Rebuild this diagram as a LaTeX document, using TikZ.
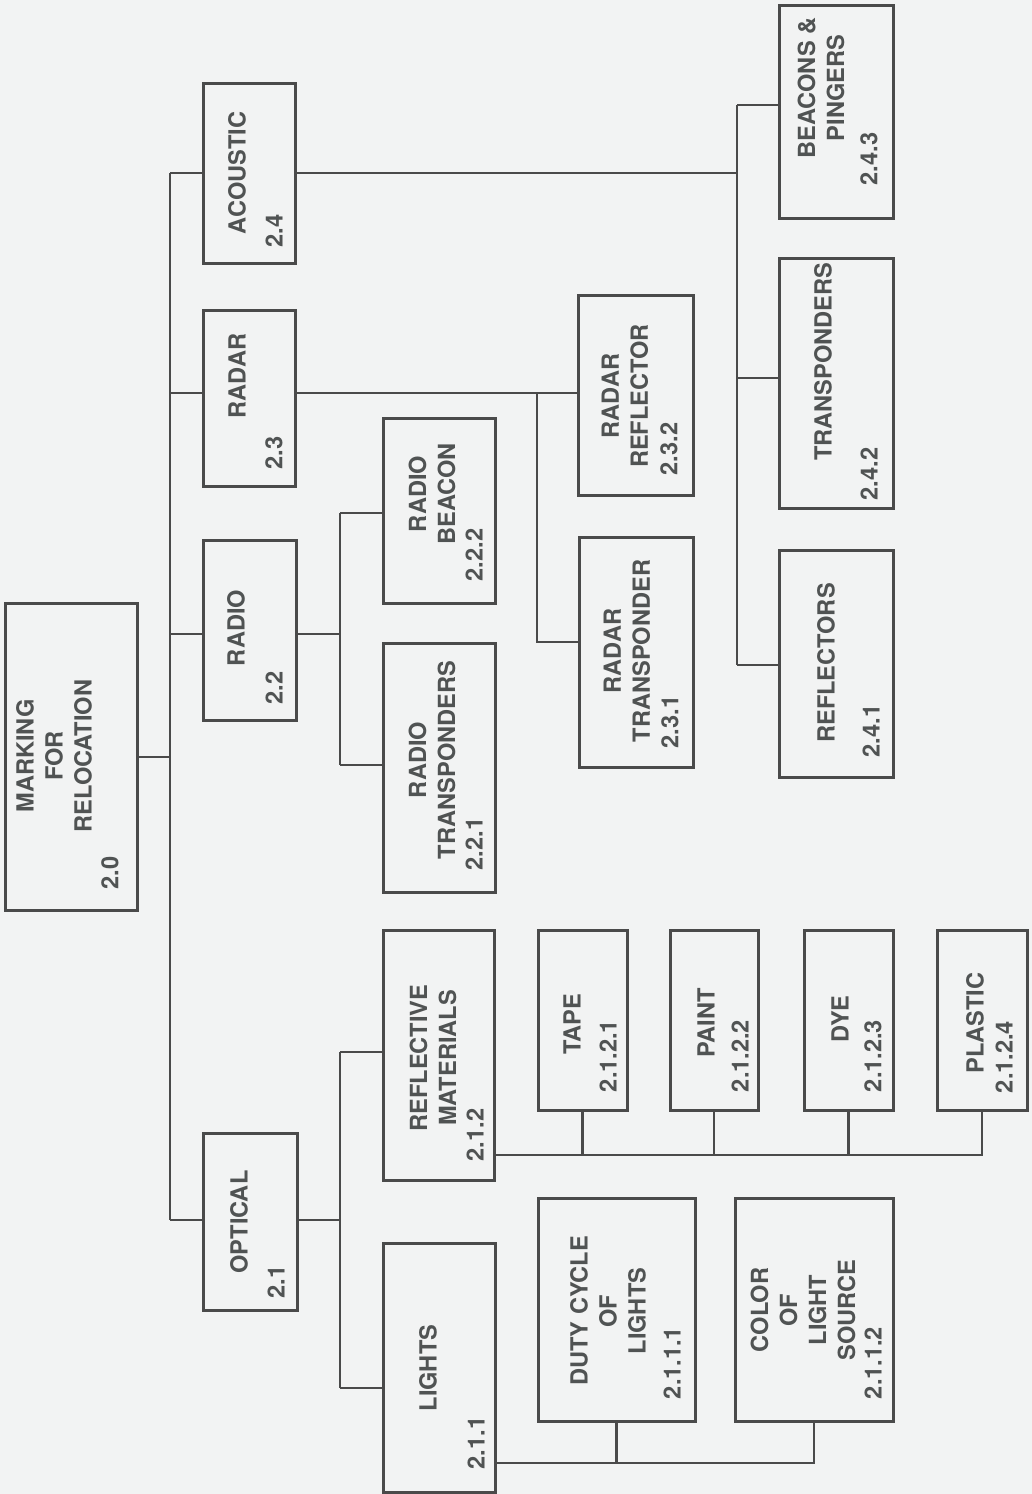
\documentclass[tikz,border=0pt]{standalone}
\usepackage{fontspec}
\setmainfont{TeX Gyre Heros}
\definecolor{bgc}{HTML}{F2F3F3}
\definecolor{linec}{HTML}{4A4A4A}
\definecolor{textc}{HTML}{505353}
\newcommand\bx[5]{\node[box, minimum width={(#4-#2)*0.5pt}, minimum height={(#5-#3)*0.5pt}] (#1) at ({(#2+#4)/2},{(#3+#5)/2}) {};}
\tikzset{
  box/.style={draw=linec, line width=1.5pt, inner sep=0pt, outer sep=0pt, rectangle},
  lab/.style={text=textc, font=\bfseries\fontsize{11.8}{14.5}\selectfont, rotate=90, align=center, inner sep=0pt},
  conn/.style={draw=linec, line width=1.2pt}
}
\begin{document}
\begin{tikzpicture}[x=0.5pt,y=-0.5pt]
\fill[bgc] (0,0) rectangle (1032,1494);
\useasboundingbox (0,0) rectangle (1032,1494);

% boxes
\bx{root}{5}{603}{137}{910}
\bx{opt}{203}{1133}{297}{1310}
\bx{radio}{203}{540}{296}{720}
\bx{radar}{203}{310}{295}{486}
\bx{acou}{203}{83}{295}{263}
\bx{lights}{383}{1243}{495}{1492}
\bx{refl}{383}{930}{494}{1180}
\bx{duty}{538}{1198}{695}{1421}
\bx{color}{735}{1198}{893}{1421}
\bx{rtrans}{383}{643}{495}{892}
\bx{rbeac}{383}{418}{495}{603}
\bx{radtr}{579}{537}{693}{767}
\bx{radrf}{578}{295}{693}{495}
\bx{arefl}{779}{550}{893}{777}
\bx{atran}{779}{258}{893}{508}
\bx{abeac}{779}{5}{893}{218}
\bx{tape}{538}{930}{627}{1110}
\bx{paint}{670}{930}{758}{1110}
\bx{dye}{804}{930}{893}{1110}
\bx{plast}{937}{930}{1027}{1110}

% labels
\node[lab] (rootT) at (54,756) {MARKING\\FOR\\RELOCATION};
\node[lab] (rootN) at (110,873) {2.0};
\node[lab] (optT) at (239,1222) {OPTICAL};
\node[lab] (optN) at (276,1282) {2.1};
\node[lab] (radioT) at (236,628) {RADIO};
\node[lab] (radioN) at (274,688) {2.2};
\node[lab] (radarT) at (237,376) {RADAR};
\node[lab] (radarN) at (274,453) {2.3};
\node[lab] (acouT) at (237,173) {ACOUSTIC};
\node[lab] (acouN) at (274,231) {2.4};
\node[lab] (lightsT) at (428,1368) {LIGHTS};
\node[lab] (lightsN) at (476,1443) {2.1.1};
\node[lab] (reflT) at (433,1058) {REFLECTIVE\\MATERIALS};
\node[lab] (reflN) at (475,1135) {2.1.2};
\node[lab] (dutyT) at (608,1311) {DUTY CYCLE\\OF\\LIGHTS};
\node[lab] (dutyN) at (672,1363) {2.1.1.1};
\node[lab] (colorT) at (803,1310) {COLOR\\OF\\LIGHT\\SOURCE};
\node[lab] (colorN) at (873,1363) {2.1.1.2};
\node[lab] (rtransT) at (432,760) {RADIO\\TRANSPONDERS};
\node[lab] (rtransN) at (474,844) {2.2.1};
\node[lab] (rbeacT) at (432,494) {RADIO\\BEACON};
\node[lab] (rbeacN) at (474,555) {2.2.2};
\node[lab] (radtrT) at (627,651) {RADAR\\TRANSPONDER};
\node[lab] (radtrN) at (670,722) {2.3.1};
\node[lab] (radrfT) at (625,396) {RADAR\\REFLECTOR};
\node[lab] (radrfN) at (669,449) {2.3.2};
\node[lab] (areflT) at (826,663) {REFLECTORS};
\node[lab] (areflN) at (871,731) {2.4.1};
\node[lab] (atranT) at (823,362) {TRANSPONDERS};
\node[lab] (atranN) at (869,474) {2.4.2};
\node[lab] (abeacT) at (821,88) {BEACONS \&\\PINGERS};
\node[lab] (abeacN) at (869,159) {2.4.3};
\node[lab] (tapeT) at (572,1024) {TAPE};
\node[lab] (tapeN) at (608,1056) {2.1.2.1};
\node[lab] (paintT) at (706,1023) {PAINT};
\node[lab] (paintN) at (740,1056) {2.1.2.2};
\node[lab] (dyeT) at (840,1019) {DYE};
\node[lab] (dyeN) at (873,1056) {2.1.2.3};
\node[lab] (plastT) at (975,1023) {PLASTIC};
\node[lab] (plastN) at (1004,1057) {2.1.2.4};

% junction coordinates
\coordinate (jRoot) at (170,757);
\coordinate (jOpt) at (170,1220);
\coordinate (jRadio) at (170,634);
\coordinate (jRadar) at (170,393);
\coordinate (jAcou) at (170,173);
\coordinate (oTop) at (340,1052);
\coordinate (oMid) at (340,1220);
\coordinate (oBot) at (340,1388);
\coordinate (lBus) at (0,1463);
\coordinate (rBus) at (0,1155);
\coordinate (raTop) at (340,513);
\coordinate (raMid) at (340,634);
\coordinate (raBot) at (340,765);
\coordinate (rdTop) at (537,393);
\coordinate (rdBot) at (537,642);
\coordinate (acTop) at (737,105);
\coordinate (acMid) at (737,173);
\coordinate (acTr) at (737,378);
\coordinate (acBot) at (737,665);

% connectors
\draw[conn] (root.east |- jRoot) -- (jRoot);
\draw[conn] (jAcou) -- (jOpt);
\draw[conn] (jOpt) -- (opt.west |- jOpt);
\draw[conn] (jRadio) -- (radio.west |- jRadio);
\draw[conn] (jRadar) -- (radar.west |- jRadar);
\draw[conn] (jAcou) -- (acou.west |- jAcou);

\draw[conn] (opt.east |- oMid) -- (oMid);
\draw[conn] (oTop) -- (oBot);
\draw[conn] (oBot) -- (lights.west |- oBot);
\draw[conn] (oTop) -- (refl.west |- oTop);

\draw[conn] (lights.east |- lBus) -- (duty.south |- lBus);
\draw[conn] (duty.south) -- (duty.south |- lBus) -- (color.south |- lBus) -- (color.south);

\draw[conn] (refl.east |- rBus) -- (plast.south |- rBus) -- (plast.south);
\draw[conn] (tape.south) -- (tape.south |- rBus);
\draw[conn] (paint.south) -- (paint.south |- rBus);
\draw[conn] (dye.south) -- (dye.south |- rBus);

\draw[conn] (radio.east |- raMid) -- (raMid);
\draw[conn] (raTop) -- (raBot);
\draw[conn] (raTop) -- (rbeac.west |- raTop);
\draw[conn] (raBot) -- (rtrans.west |- raBot);

\draw[conn] (radar.east |- rdTop) -- (radrf.west |- rdTop);
\draw[conn] (rdTop) -- (rdBot) -- (radtr.west |- rdBot);

\draw[conn] (acou.east |- acMid) -- (acMid);
\draw[conn] (acTop) -- (acBot);
\draw[conn] (acTop) -- (abeac.west |- acTop);
\draw[conn] (acTr) -- (atran.west |- acTr);
\draw[conn] (acBot) -- (arefl.west |- acBot);
\end{tikzpicture}
\end{document}
